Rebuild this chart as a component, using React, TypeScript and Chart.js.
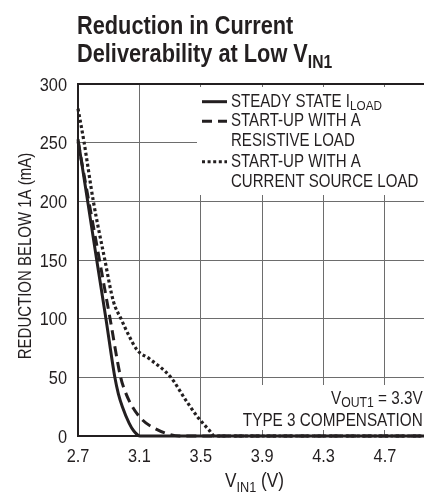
import React, { useEffect, useRef } from "react";
import { Chart, registerables } from "chart.js";

Chart.register(...registerables);

// ---------- data ----------
const xTicks = [2.7, 3.1, 3.5, 3.9, 4.3, 4.7];
const yTicks = [0, 50, 100, 150, 200, 250, 300];
const xMin = 2.7;
const xMax = 5.0;
const yMin = 0;
const yMax = 300;

// Steady state I_LOAD (solid)
const steadyV = [2.7, 2.763, 2.822, 2.882, 2.94, 2.963, 2.989, 3.033, 3.065, 3.104, 5.0];
const steadyI = [253, 200, 150, 100, 50, 36, 25, 11, 4, 0, 0];

// Start-up with a resistive load (dashed)
const resistiveV = [2.7, 2.7705, 2.84, 2.909, 2.978, 3.01, 3.054, 3.12, 3.196, 3.28, 3.36, 5.0];
const resistiveI = [251, 200, 150, 100, 50, 37, 25, 13.6, 6.8, 2, 0, 0];

// Start-up with a current source load (dotted)
const currentV = [2.7, 2.74, 2.8, 2.875, 2.93, 2.98, 3.03, 3.087, 3.163, 3.305, 3.4, 3.478, 3.554, 3.59, 5.0];
const currentI = [279, 250, 200, 150, 115, 100, 86, 73, 66, 50, 31, 16.5, 5, 0, 0];

// ---------- text ----------
type Part = { t: string; sub?: boolean };
const titleLine1: Part[] = [{ t: "Reduction in Current" }];
const titleLine2: Part[] = [{ t: "Deliverability at Low V" }, { t: "IN1", sub: true }];
const yTitle: Part[] = [{ t: "REDUCTION BELOW 1A (mA)" }];
const xTitle: Part[] = [{ t: "V" }, { t: "IN1", sub: true }, { t: " (V)" }];
const legendRows: Part[][] = [
  [{ t: "STEADY STATE I" }, { t: "LOAD", sub: true }],
  [{ t: "START-UP WITH A" }],
  [{ t: "RESISTIVE LOAD" }],
  [{ t: "START-UP WITH A" }],
  [{ t: "CURRENT SOURCE LOAD" }],
];
const legendSampleRows = [0, 1, 3]; // legend row of each series sample
const noteLine1: Part[] = [{ t: "V" }, { t: "OUT1", sub: true }, { t: " = 3.3V" }];
const noteLine2: Part[] = [{ t: "TYPE 3 COMPENSATION" }];

// ---------- styles ----------
const FONT = '"Liberation Sans", Arial, sans-serif';
const NARROW = 0.86; // horizontal compression to imitate a condensed face
const INK = "#231f20";
const GRID = "#6d6d6d";
const dashes: number[][] = [[], [10, 6], [3, 2.6]];

function drawRich(
  ctx: CanvasRenderingContext2D,
  parts: Part[],
  x: number,
  baseline: number,
  align: "left" | "right" | "center",
  size: number,
  bold: boolean,
  subScale: number,
  subDrop: number,
  sx: number = NARROW
) {
  const fontFor = (sub?: boolean) =>
    `${bold ? "bold " : ""}${sub ? size * subScale : size}px ${FONT}`;
  let total = 0;
  const widths = parts.map((p) => {
    ctx.font = fontFor(p.sub);
    const w = ctx.measureText(p.t).width;
    total += w;
    return w;
  });
  const scaled = total * sx;
  const start = align === "right" ? x - scaled : align === "center" ? x - scaled / 2 : x;
  ctx.save();
  ctx.translate(start, baseline);
  ctx.scale(sx, 1);
  ctx.textAlign = "left";
  ctx.textBaseline = "alphabetic";
  let cx = 0;
  parts.forEach((p, i) => {
    ctx.font = fontFor(p.sub);
    ctx.fillText(p.t, cx, p.sub ? subDrop : 0);
    cx += widths[i];
  });
  ctx.restore();
}

const decorPlugin = {
  id: "decor",
  beforeDatasetsDraw(chart: any) {
    const { ctx, chartArea: a } = chart;
    ctx.save();
    // white panels behind the legend and the note
    ctx.fillStyle = "#fff";
    ctx.fillRect(a.left + 119, a.top + 3, a.right - a.left, 108);
    ctx.fillRect(a.left + 160, a.bottom - 51, a.right - a.left, 45);
    // frame
    ctx.strokeStyle = INK;
    ctx.lineWidth = 2;
    ctx.strokeRect(a.left, a.top, a.right - a.left, a.bottom - a.top);
    ctx.restore();
  },
  afterDraw(chart: any) {
    const { ctx, chartArea: a, scales } = chart;
    ctx.save();
    ctx.fillStyle = INK;
    ctx.strokeStyle = INK;

    // tick labels, placed with the chart's scales
    scales.y.ticks.forEach((t: any) => {
      const py = scales.y.getPixelForValue(t.value);
      drawRich(ctx, [{ t: String(t.value) }], a.left - 11, py + 6.7, "right", 19, false, 1, 0);
    });
    scales.x.ticks.forEach((t: any) => {
      const px = scales.x.getPixelForValue(t.value);
      drawRich(ctx, [{ t: Number(t.value).toFixed(1) }], px, 461.7, "center", 19, false, 1, 0);
    });

    // title
    drawRich(ctx, titleLine1, a.left - 1, 33.5, "left", 25, true, 0.72, 0, 0.87);
    drawRich(ctx, titleLine2, a.left - 1, 62, "left", 25, true, 0.72, 6, 0.87);

    // legend
    const lx = a.left + 123;
    const tx = a.left + 153;
    const rowBase = [a.top + 22.7, a.top + 42.3, a.top + 62.3, a.top + 82.7, a.top + 102.7];
    legendRows.forEach((row, i) => {
      drawRich(ctx, row, tx, rowBase[i], "left", 17.5, false, 0.78, 3.5);
    });
    legendSampleRows.forEach((r, k) => {
      ctx.beginPath();
      ctx.lineWidth = 3;
      ctx.setLineDash(dashes[k]);
      ctx.moveTo(lx + 1, rowBase[r] - 5);
      ctx.lineTo(lx + 26, rowBase[r] - 5);
      ctx.stroke();
    });
    ctx.setLineDash([]);

    // note
    drawRich(ctx, noteLine1, a.right - 8.3, a.bottom - 31.7, "right", 17.8, false, 0.8, 2.5);
    drawRich(ctx, noteLine2, a.right - 8.3, a.bottom - 10, "right", 17.8, false, 0.8, 0);

    // x title
    drawRich(ctx, xTitle, (a.left + a.right) / 2, 487, "center", 20, false, 0.74, 5);

    // y title
    ctx.save();
    ctx.translate(30.7, (a.top + a.bottom) / 2 - 4);
    ctx.rotate(-Math.PI / 2);
    drawRich(ctx, yTitle, 0, 0, "center", 18.5, false, 1, 0, 0.81);
    ctx.restore();

    ctx.restore();
  },
};

function pts(xs: number[], ys: number[]) {
  return xs.map((x, i) => ({ x, y: ys[i] }));
}

export default function App() {
  const ref = useRef<HTMLCanvasElement | null>(null);

  useEffect(() => {
    if (!ref.current) return;
    const common = {
      borderColor: INK,
      borderWidth: 3,
      pointRadius: 0,
      fill: false,
      cubicInterpolationMode: "monotone" as const,
      clip: 4,
      borderCapStyle: "butt" as const,
    };
    const chart = new Chart(ref.current, {
      type: "line",
      data: {
        datasets: [
          { ...common, label: "STEADY STATE ILOAD", data: pts(steadyV, steadyI), borderDash: dashes[0] },
          { ...common, label: "START-UP WITH A RESISTIVE LOAD", data: pts(resistiveV, resistiveI), borderDash: dashes[1] },
          { ...common, label: "START-UP WITH A CURRENT SOURCE LOAD", data: pts(currentV, currentI), borderDash: dashes[2], borderWidth: 3.2 },
        ],
      },
      options: {
        responsive: false,
        maintainAspectRatio: false,
        animation: false,
        devicePixelRatio: 1,
        layout: { padding: { top: 84, right: 9, left: 0, bottom: 0 } },
        plugins: { legend: { display: false }, tooltip: { enabled: false }, title: { display: false } },
        scales: {
          x: {
            type: "linear",
            min: xMin,
            max: xMax,
            afterBuildTicks: (s: any) => {
              s.ticks = xTicks.map((v) => ({ value: v }));
            },
            afterFit: (s: any) => {
              s.height = 68;
            },
            grid: { color: GRID, lineWidth: 1, drawTicks: false },
            border: { display: false },
            ticks: { display: false },
          },
          y: {
            type: "linear",
            min: yMin,
            max: yMax,
            afterBuildTicks: (s: any) => {
              s.ticks = yTicks.map((v) => ({ value: v }));
            },
            afterFit: (s: any) => {
              s.width = 78;
            },
            grid: { color: GRID, lineWidth: 1, drawTicks: false },
            border: { display: false },
            ticks: { display: false },
          },
        },
      },
      plugins: [decorPlugin],
    });
    return () => chart.destroy();
  }, []);

  return (
    <div
      style={{
        position: "fixed",
        left: 0,
        top: 0,
        width: 424,
        height: 504,
        overflow: "hidden",
        background: "#fff",
      }}
    >
      <canvas ref={ref} width={440} height={504} style={{ width: 440, height: 504, display: "block" }} />
    </div>
  );
}
